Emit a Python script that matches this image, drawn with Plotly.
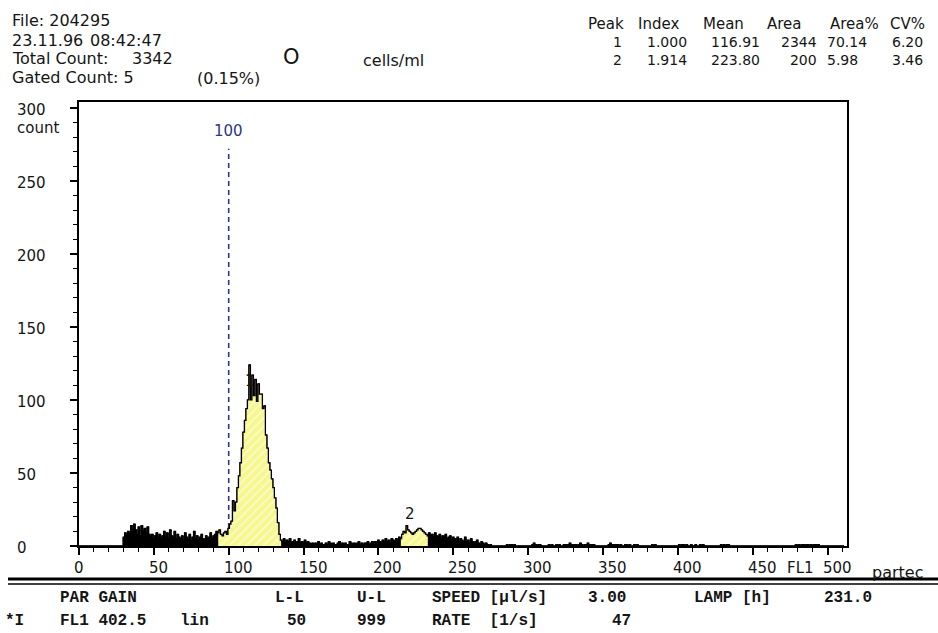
import plotly.graph_objects as go

# ---------------- data ----------------
counts = [
    0, 0, 0, 0, 0, 0, 0, 0, 0, 0, 0, 0, 0, 0, 0, 0,          # 0-15
    0, 0, 0, 0, 0, 0, 0, 0, 0, 0, 0, 0, 0, 0, 6, 9,          # 16-31
    7, 10, 8, 14, 9, 15, 11, 8, 13, 7, 14, 10, 12, 9, 13, 8,  # 32-47
    6, 8, 5, 7, 9, 6, 8, 5, 7, 10, 6, 9, 5, 11, 7, 6,        # 48-63
    10, 5, 8, 6, 5, 7, 4, 9, 6, 5, 8, 4, 6, 10, 5, 7,        # 64-79
    4, 6, 8, 5, 4, 7, 5, 6, 9, 5, 7, 8, 10, 9, 11, 8,        # 80-95
    7, 9, 10, 8, 12, 15, 17, 31, 24, 30, 40, 48, 57, 67, 78, 86,          # 96-111
    94, 100, 124, 100, 117, 103, 114, 99, 111, 104, 104, 94, 96, 76, 67, 57,  # 112-127
    52, 46, 40, 33, 26, 16, 8, 4, 3, 5, 2, 4, 3, 5, 2, 3,    # 128-143
    4, 2, 3, 5, 2, 3, 2, 4, 2, 3, 2, 1, 2, 1, 2, 1,          # 144-159
    3, 1, 2, 1, 1, 2, 1, 3, 2, 1, 2, 1, 1, 2, 3, 1,          # 160-175
    2, 1, 2, 1, 1, 3, 2, 1, 2, 1, 2, 3, 1, 2, 1, 2,          # 176-191
    2, 3, 1, 2, 3, 2, 3, 2, 4, 3, 2, 4, 3, 5, 3, 4,          # 192-207
    2, 5, 4, 3, 5, 4, 6, 5, 8, 10, 9, 14, 11, 10, 9, 8,      # 208-223
    9, 10, 11, 12, 12, 11, 10, 9, 8, 7, 9, 7, 8, 6, 9, 7,    # 224-239
    6, 8, 5, 7, 6, 8, 5, 6, 7, 4, 6, 5, 4, 6, 3, 5,          # 240-255
    4, 3, 6, 3, 4, 2, 5, 3, 2, 3, 4, 2, 1, 3, 2, 1,          # 256-271
    2, 1, 0, 1, 0, 0, 0, 0, 0, 0, 0, 0, 0, 0, 1, 0,          # 272-287
    1, 1, 0, 1, 0, 0, 0, 0, 0, 0, 0, 0, 0, 0, 0, 1,          # 288-303
    2, 1, 0, 1, 1, 0, 0, 0, 0, 0, 1, 0, 1, 0, 0, 1,          # 304-319
    0, 1, 0, 0, 1, 1, 0, 1, 2, 1, 0, 1, 1, 0, 1, 2,          # 320-335
    1, 0, 1, 1, 2, 1, 0, 1, 1, 0, 0, 0, 0, 0, 0, 0,          # 336-351
    0, 0, 1, 2, 1, 1, 0, 1, 1, 0, 1, 0, 0, 1, 1, 0,          # 352-367
    1, 0, 0, 1, 0, 1, 0, 0, 0, 0, 0, 0, 0, 0, 0, 1,          # 368-383
    0, 1, 0, 0, 0, 0, 0, 0, 0, 0, 0, 0, 0, 0, 0, 0,          # 384-399
    0, 1, 0, 1, 1, 0, 1, 0, 0, 1, 0, 0, 1, 0, 0, 1,          # 400-415
    0, 1, 0, 0, 0, 0, 0, 0, 0, 0, 0, 0, 0, 1, 0, 1,          # 416-431
    0, 1, 1, 0, 0, 0, 0, 0, 0, 0, 0, 0, 0, 0, 0, 0,          # 432-447
    0, 0, 0, 0, 0, 0, 0, 0, 0, 0, 0, 0, 0, 0, 0, 0,          # 448-463
    0, 0, 0, 0, 0, 0, 0, 0, 0, 0, 0, 0, 0, 0, 0, 1,          # 464-479
    0, 1, 0, 1, 1, 0, 1, 1, 0, 1, 0, 1, 1, 0, 1, 0,          # 480-495
    0, 0, 0, 0, 0, 0, 0, 0, 0, 0, 0, 0, 0, 0, 0, 0,          # 496-511
]
channels = list(range(len(counts)))

gate_ranges = [(93, 135), (215, 233)]          # gated (yellow) peak regions
peak_labels = ["1", "2"]
peak_label_channels = [114, 221]
peak_label_counts = [113, 22]

marker_channel = 100
marker_top = 272
marker_label = "100"

x_tick_values = [0, 50, 100, 150, 200, 250, 300, 350, 400, 450, 500]
x_tick_labels = ["0", "50", "100", "150", "200", "250", "300", "350", "400", "450", "500"]
y_tick_values = [0, 50, 100, 150, 200, 250, 300]
y_tick_labels = ["0", "50", "100", "150", "200", "250", "300"]

header_left = ["File: 204295", "23.11.96", "08:42:47", "Total Count:", "3342", "Gated Count: 5", "(0.15%)"]
header_big = "O"
header_unit = "cells/ml"

table_head = ["Peak", "Index", "Mean", "Area", "Area%", "CV%"]
peak_ids = ["1", "2"]
peak_index = ["1.000", "1.914"]
peak_mean = ["116.91", "223.80"]
peak_area = ["2344", "200"]
peak_area_pct = ["70.14", "5.98"]
peak_cv = ["6.20", "3.46"]

status_row1 = ["PAR GAIN", "L-L", "U-L", "SPEED [µl/s]", "3.00", "LAMP [h]", "231.0"]
status_row2 = ["*I", "FL1 402.5", "lin", "50", "999", "RATE  [1/s]", "47"]

# ---------------- layout helpers ----------------
W, H = 938, 633
L, R, T, B = 79, 847, 102, 546


def px(X):
    return (X - L) / (R - L)


def py(Y):
    return (B - Y) / (B - T)


SANS = "DejaVu Sans"
MONO = "Liberation Mono"
INK = "#151515"
BLUE = "#2d3784"

annotations = []


def text(s, X, Y, anchor="left", size=16, color=INK, family=SANS, bold=False):
    font = dict(family=family, size=size, color=color)
    if bold:
        font["weight"] = "bold"
    annotations.append(dict(text=s, xref="paper", yref="paper", x=px(X), y=py(Y),
                            xanchor=anchor, yanchor="middle", align=anchor if anchor != "center" else "center",
                            showarrow=False, borderpad=0, borderwidth=0, font=font))


fig = go.Figure()

# black noise / outline fill
fig.add_trace(go.Scatter(x=channels, y=counts, mode="lines", line=dict(color="black", width=1, shape="hvh"),
                         fill="tozeroy", fillcolor="black", hoverinfo="skip"))
# yellow hatched gated regions
for g0, g1 in gate_ranges:
    xs = channels[g0:g1 + 1]
    ys = counts[g0:g1 + 1]
    fig.add_trace(go.Scatter(x=xs, y=ys, mode="lines", line=dict(width=0, shape="hvh"),
                             fill="tozeroy", fillcolor="#f7f790",
                             fillpattern=dict(shape="/", bgcolor="#f7f790", fgcolor="#ffffff",
                                              size=6, solidity=0.3),
                             hoverinfo="skip"))
# outline on top
fig.add_trace(go.Scatter(x=channels, y=counts, mode="lines",
                         line=dict(color="black", width=1.3, shape="hvh"), hoverinfo="skip"))

# marker line at channel 100
shapes = [dict(type="line", xref="x", yref="y", x0=marker_channel, x1=marker_channel, y0=0, y1=marker_top,
               line=dict(color=BLUE, width=1.6, dash="5px,4px"), layer="below")]
annotations.append(dict(text=marker_label, xref="x", yref="y", x=marker_channel, y=marker_top + 12,
                        xanchor="center", yanchor="middle", showarrow=False,
                        font=dict(family=SANS, size=15, color=BLUE)))

# peak labels
for lab, c, v in zip(peak_labels, peak_label_channels, peak_label_counts):
    annotations.append(dict(text=lab, xref="x", yref="y", x=c, y=v, xanchor="center", yanchor="middle",
                            showarrow=False, font=dict(family=SANS, size=15, color=INK)))

# tick labels (left aligned, as on the print-out)
for v, lab in zip(x_tick_values, x_tick_labels):
    annotations.append(dict(text=lab, xref="x", yref="paper", x=v, y=py(568), xanchor="left", yanchor="middle",
                            xshift=-5, showarrow=False, borderpad=0, borderwidth=0,
                            font=dict(family=SANS, size=15, color=INK)))
for v, lab in zip(y_tick_values, y_tick_labels):
    annotations.append(dict(text=lab, xref="paper", yref="y", x=px(17), y=v, xanchor="left", yanchor="middle",
                            yshift=-2, showarrow=False, borderpad=0, borderwidth=0,
                            font=dict(family=SANS, size=15, color=INK)))
text("count", 17, 128, size=15)
text("FL1", 800, 568, anchor="center", size=15)
text("partec", 872, 572, size=16)

# header, left block
hl_pos = [(12, 21), (12, 41), (90, 41), (12, 59), (132, 59), (12, 77), (197, 79)]
for s, (X, Y) in zip(header_left, hl_pos):
    text(s, X, Y, size=16)
text(header_big, 283, 57, size=21)
text(header_unit, 363, 60, size=16)

# header, peak table (one text per column, rows stacked)
head_x = [588, 638, 703, 767, 830, 890]
for s, X in zip(table_head, head_x):
    text(s, X, 24, size=15)
col_y = 51
text("<br>".join(peak_ids), 622, col_y, anchor="right", size=14)
text("<br>".join(peak_index), 687, col_y, anchor="right", size=14)
text("<br>".join(peak_mean), 760, col_y, anchor="right", size=14)
text("<br>".join(peak_area), 817, col_y, anchor="right", size=14)
text("<br>".join(peak_area_pct), 827, col_y, size=14)
text("<br>".join(peak_cv), 892, col_y, size=14)

# status block
r1_x = [60, 275, 357, 432, 588, 694, 824]
r2_x = [5, 60, 180, 287, 357, 432, 612]
for s, X in zip(status_row1, r1_x):
    text(s, X, 598, size=16, family=MONO, bold=True)
for s, X in zip(status_row2, r2_x):
    text(s, X, 621, size=16, family=MONO, bold=True)

# double rule under the chart
shapes.append(dict(type="line", xref="paper", yref="paper", x0=px(8), x1=px(938), y0=py(579), y1=py(579),
                   line=dict(color="black", width=3)))
shapes.append(dict(type="line", xref="paper", yref="paper", x0=px(8), x1=px(938), y0=py(584), y1=py(584),
                   line=dict(color="black", width=1.5)))

fig.update_layout(
    width=W, height=H, margin=dict(l=L, r=W - R, t=T, b=H - B),
    paper_bgcolor="white", plot_bgcolor="white", showlegend=False,
    annotations=annotations, shapes=shapes,
    xaxis=dict(range=[0, 513], showgrid=False, zeroline=False, showline=True, linecolor="black", linewidth=1.8,
               mirror=True, ticks="outside", tickvals=x_tick_values, ticklen=7, tickwidth=1.5, tickcolor="black",
               showticklabels=False,
               minor=dict(ticks="outside", dtick=10, tick0=0, ticklen=4, tickwidth=1, tickcolor="black")),
    yaxis=dict(range=[0, 304], showgrid=False, zeroline=False, showline=True, linecolor="black", linewidth=1.8,
               mirror=True, ticks="outside", tickvals=y_tick_values, ticklen=7, tickwidth=1.5, tickcolor="black",
               showticklabels=False,
               minor=dict(ticks="outside", dtick=10, tick0=0, ticklen=4, tickwidth=1, tickcolor="black")),
)

fig.write_html("out.html")
